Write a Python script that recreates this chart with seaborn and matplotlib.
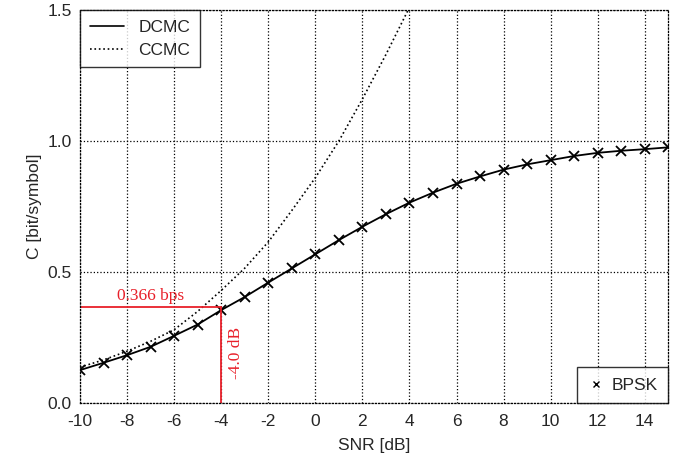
import numpy as np
import pandas as pd
import matplotlib
matplotlib.use("Agg")
import matplotlib.pyplot as plt
from matplotlib.lines import Line2D
import seaborn as sns

# values
snr_dcmc = list(range(-10, 16))
c_dcmc = [0.126, 0.154, 0.183, 0.215, 0.257, 0.300, 0.355, 0.405, 0.460, 0.514,
          0.568, 0.622, 0.673, 0.721, 0.765, 0.803, 0.837, 0.865, 0.891, 0.911,
          0.927, 0.943, 0.955, 0.963, 0.969, 0.976]

snr_ccmc = list(range(-10, 5))
c_ccmc = [0.137, 0.165, 0.198, 0.236, 0.280, 0.350, 0.430, 0.515, 0.615, 0.735,
          0.860, 1.000, 1.160, 1.330, 1.510]

mark_snr = -4.0
mark_cap = 0.366

xticks = list(range(-10, 16, 2))
yticks = [0.0, 0.5, 1.0, 1.5]

sns.set_style("white")
plt.rcParams['font.family'] = ['Liberation Sans', 'DejaVu Sans']
plt.rcParams['axes.unicode_minus'] = False

df_d = pd.DataFrame({'snr': snr_dcmc, 'c': c_dcmc})
df_c = pd.DataFrame({'snr': snr_ccmc, 'c': c_ccmc})

fig = plt.figure(figsize=(6.84, 4.55), dpi=100)
ax = fig.add_axes([0.117, 0.114, 0.86, 0.864])

sns.lineplot(data=df_c, x='snr', y='c', ax=ax, color='black', linestyle=':', lw=1.2)
sns.lineplot(data=df_d, x='snr', y='c', ax=ax, color='black', lw=1.3,
             marker='x', markersize=7, markeredgewidth=1.3, markeredgecolor='black')

# red marker lines for the -4 dB operating point
red = '#e8202a'
ax.plot([-10, mark_snr], [mark_cap, mark_cap], color=red, lw=1.3)
ax.plot([mark_snr, mark_snr], [0, mark_cap], color=red, lw=1.3)
ax.text(-7, mark_cap + 0.012, '0.366 bps', color=red, ha='center', va='bottom',
        fontsize=12.5, family='Liberation Serif')
ax.text(mark_snr + 0.3, 0.19, '-4.0 dB', color=red, ha='left', va='center',
        rotation=90, fontsize=12.5, family='Liberation Serif')

ax.set_xlim(-10, 15)
ax.set_ylim(0, 1.5)
ax.set_xticks(xticks)
ax.set_yticks(yticks)
ax.set_yticklabels([f'{v:.1f}' for v in yticks])
ax.tick_params(axis='x', labelsize=12.5, length=0, pad=8)
ax.tick_params(axis='y', labelsize=12.5, length=0, pad=6)
ax.grid(True, color='black', linestyle=':', lw=0.9)
for s in ax.spines.values():
    s.set_linestyle(':')
    s.set_linewidth(0.9)
    s.set_color('black')

ax.set_xlabel('SNR [dB]', fontsize=12.5, labelpad=6)
ax.set_ylabel('C [bit/symbol]', fontsize=12.5, labelpad=4)

h1 = [Line2D([], [], color='black', lw=1.2), Line2D([], [], color='black', lw=1.2, ls=':')]
leg1 = ax.legend(h1, ['DCMC', 'CCMC'], loc='upper left', fontsize=12.5, frameon=True,
                 fancybox=False, edgecolor='black', borderaxespad=0, handlelength=2.0,
                 borderpad=0.55, labelspacing=0.45)
leg1.get_frame().set_linewidth(1.0)
ax.add_artist(leg1)

h2 = [Line2D([], [], color='black', ls='none', marker='x', markersize=5, markeredgewidth=1.0)]
leg2 = ax.legend(h2, ['BPSK'], loc='lower right', fontsize=12.5, frameon=True,
                 fancybox=False, edgecolor='black', borderaxespad=0, handlelength=1.0,
                 handletextpad=0.4, borderpad=0.6)
leg2.get_frame().set_linewidth(1.0)

fig.savefig('out.png', dpi=100)
